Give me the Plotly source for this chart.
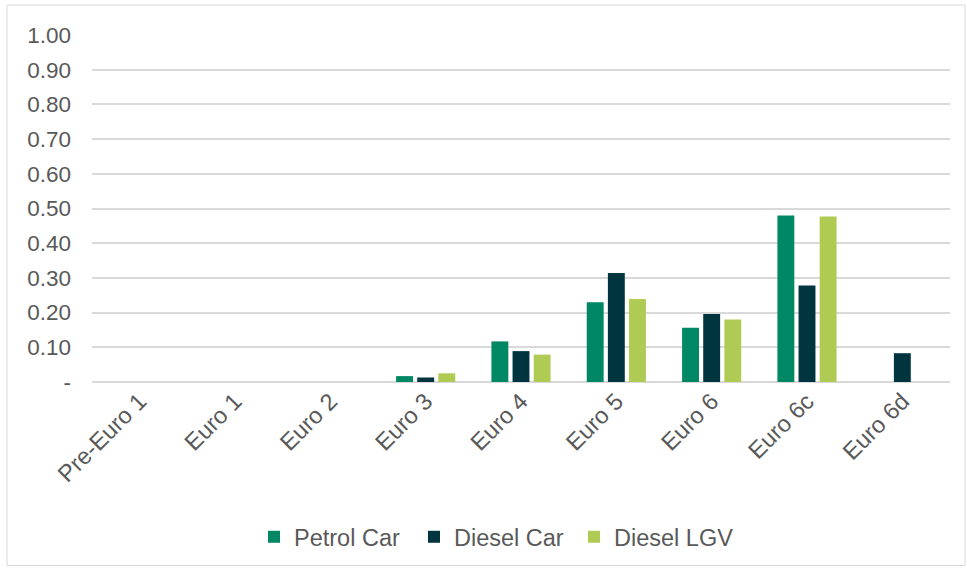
import plotly.graph_objects as go

# Euro standard categories
categories = ["Pre-Euro 1", "Euro 1", "Euro 2", "Euro 3", "Euro 4",
              "Euro 5", "Euro 6", "Euro 6c", "Euro 6d"]

# Series values (None = no bar)
petrol_car = [None, None, None, 0.017, 0.117, 0.230, 0.156, 0.480, None]
diesel_car = [None, None, None, 0.013, 0.089, 0.314, 0.196, 0.278, 0.083]
diesel_lgv = [None, None, None, 0.025, 0.079, 0.239, 0.180, 0.477, None]

# Y tick labels
y_ticks = [0, 0.1, 0.2, 0.3, 0.4, 0.5, 0.6, 0.7, 0.8, 0.9, 1.0]
y_labels = ["-", "0.10", "0.20", "0.30", "0.40", "0.50",
            "0.60", "0.70", "0.80", "0.90", "1.00"]

series = [
    ("Petrol Car", petrol_car, "#008864"),
    ("Diesel Car", diesel_car, "#003540"),
    ("Diesel LGV", diesel_lgv, "#B0CB53"),
]

fig = go.Figure()
for name, vals, color in series:
    fig.add_trace(go.Bar(
        name=name, x=categories, y=vals,
        marker=dict(color=color, line=dict(width=0)),
    ))

W, H = 967, 570
L, R, T, B = 92, 17, 35, 187
pw, ph = W - L - R, H - T - B
TXT = "#595959"

fig.update_layout(
    width=W, height=H,
    margin=dict(l=L, r=R, t=T, b=B),
    paper_bgcolor="white", plot_bgcolor="white",
    barmode="group", bargap=0.335, bargroupgap=0.2,
    font=dict(family="Liberation Sans, Arial, sans-serif", color=TXT, size=22),
    xaxis=dict(
        tickangle=-45, tickfont=dict(size=23.5, color=TXT),
        showgrid=False, showline=False, ticks="", automargin=False,
    ),
    yaxis=dict(
        range=[0, 1.0], tickvals=y_ticks, ticktext=y_labels,
        tickfont=dict(size=22.5, color=TXT),
        showgrid=True, gridcolor="#d9d9d9", gridwidth=1.5,
        zeroline=True, zerolinecolor="#d9d9d9", zerolinewidth=1.5,
        showline=False, ticks="", ticklabelstandoff=20, automargin=False,
    ),
    legend=dict(
        orientation="h", x=(254 - L) / pw, xanchor="left",
        y=(H - B - 537) / ph, yanchor="middle",
        font=dict(size=23.5, color=TXT),
        entrywidth=115, entrywidthmode="pixels",
    ),
    shapes=[dict(
        type="rect", xref="paper", yref="paper",
        x0=(7 - L) / pw, x1=(965 - L) / pw,
        y0=(H - B - 567) / ph, y1=(H - B - 5) / ph,
        line=dict(color="#d9d9d9", width=1), fillcolor="rgba(0,0,0,0)",
        layer="below",
    )],
)

fig.write_html("out.html")
